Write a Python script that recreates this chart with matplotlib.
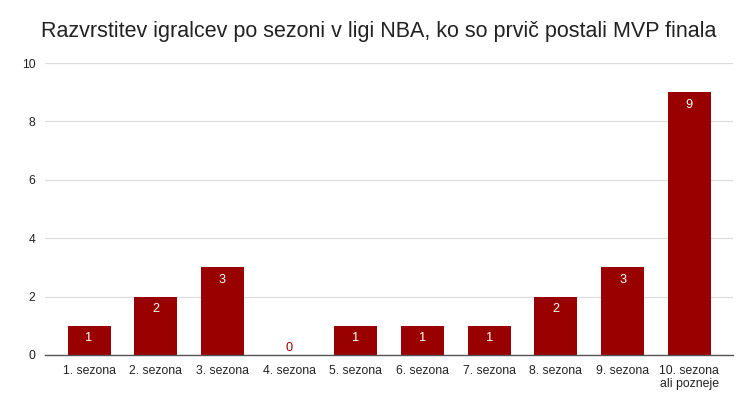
import numpy as np
import matplotlib
matplotlib.use("Agg")
from matplotlib import pyplot as plt

plt.rcParams["font.family"] = ["Liberation Sans", "DejaVu Sans"]

# podatki
sezone = ["1. sezona", "2. sezona", "3. sezona", "4. sezona", "5. sezona",
          "6. sezona", "7. sezona", "8. sezona", "9. sezona", "10. sezona\nali pozneje"]
igralci = [1, 2, 3, 0, 1, 1, 1, 2, 3, 9]
naslov = "Razvrstitev igralcev po sezoni v ligi NBA, ko so prvič postali MVP finala"

barva = "#990000"

fig = plt.figure(figsize=(7.5, 4.07), dpi=100)
ax = fig.add_axes([0.06, 0.128, 0.917, 0.717])

x = np.arange(len(sezone))
bars = ax.bar(x, igralci, width=0.645, color=barva, zorder=3)

# oznake vrednosti
for xi, v in zip(x, igralci):
    if v > 0:
        ax.text(xi, v - 0.22, str(v), ha="center", va="top", color="white", fontsize=9.2, zorder=4)
    else:
        ax.text(xi, 0.45, str(v), ha="center", va="top", color=barva, fontsize=9.2, zorder=4)

ax.set_xlim(-0.66, len(sezone) - 0.35)
ax.set_ylim(0, 10)
ax.set_yticks([0, 2, 4, 6, 8, 10])
ax.set_xticks(x)
ax.set_xticklabels(sezone, fontsize=8.8, color="#222222", linespacing=1.15)
ax.tick_params(axis="y", labelsize=8.8, labelcolor="#222222", length=0, pad=7)
ax.tick_params(axis="x", length=0, pad=7)

ax.grid(axis="y", color="#dddddd", linewidth=0.9, zorder=0)
for s in ["top", "right", "left"]:
    ax.spines[s].set_visible(False)
ax.spines["bottom"].set_color("#555555")
ax.spines["bottom"].set_linewidth(1.0)
ax.spines["bottom"].set_zorder(5)

fig.suptitle(naslov, x=0.505, y=0.948, fontsize=15.5, color="#222222")

plt.savefig("out.png", dpi=100)
